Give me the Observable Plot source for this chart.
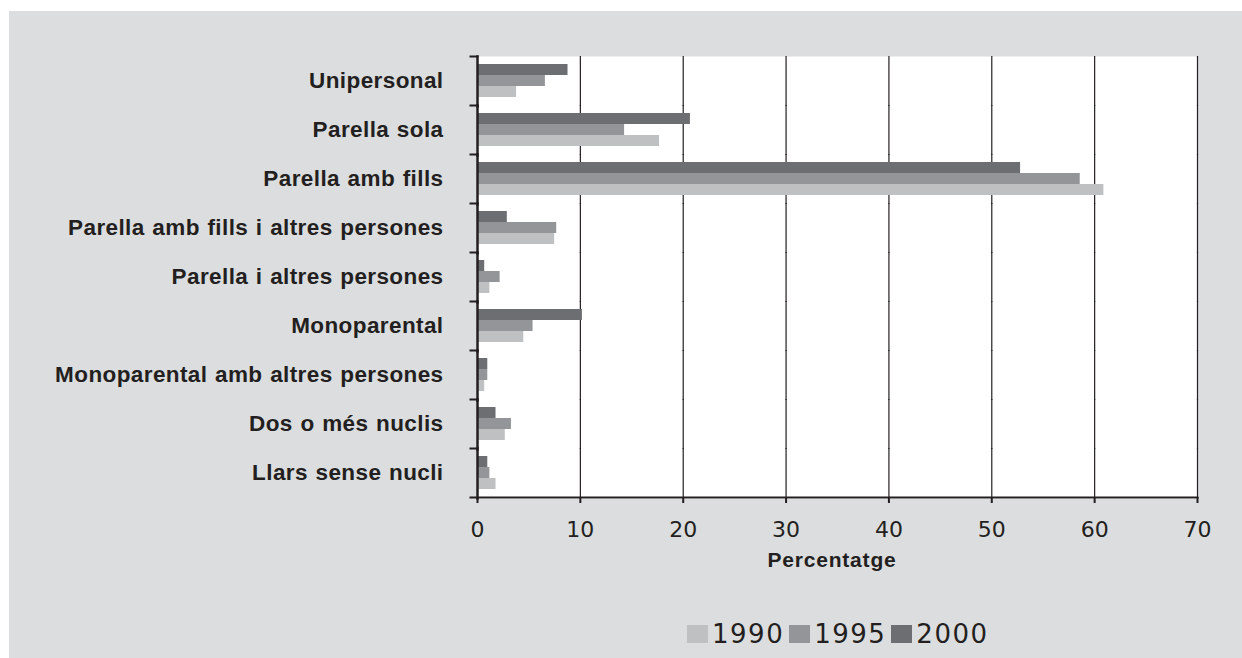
<!DOCTYPE html>
<html><head><meta charset="utf-8">
<script src="https://cdn.jsdelivr.net/npm/d3@7"></script>
<script src="https://cdn.jsdelivr.net/npm/@observablehq/plot@0.6"></script>
<style>
html,body{margin:0;padding:0;background:#fff;}
#bg{position:absolute;left:9px;top:11px;width:1233px;height:647px;background:#dcdddf;}
#chart{position:absolute;left:0;top:0;}
#xlabel{position:absolute;left:472px;width:720px;top:549px;text-align:center;font-family:"Liberation Sans";font-weight:bold;font-size:21px;line-height:21px;color:#231f20;letter-spacing:0.8px}
#legend{position:absolute;left:687px;top:621px;display:flex;align-items:flex-start;font-family:"DejaVu Sans";font-size:26px;line-height:26px;color:#231f20}
.sw{width:21px;height:18px;margin-top:4px;margin-right:4px}
.lt{margin-right:5px;letter-spacing:1.5px}
g[aria-label="fy-axis tick label"] text{word-spacing:1px;letter-spacing:0.4px}
</style></head><body>
<div id="bg"></div><div id="chart"></div><div id="xlabel"></div><div id="legend"></div>
<script>
const categories = [
  "Unipersonal",
  "Parella sola",
  "Parella amb fills",
  "Parella amb fills i altres persones",
  "Parella i altres persones",
  "Monoparental",
  "Monoparental amb altres persones",
  "Dos o més nuclis",
  "Llars sense nucli"
];
const years = ["1990", "1995", "2000"];
const colors = ["#bfc0c2", "#939598", "#6d6e71"];
const v1990 = [3.8, 17.7, 60.9, 7.5, 1.2, 4.5, 0.7, 2.7, 1.8];
const v1995 = [6.6, 14.3, 58.6, 7.7, 2.2, 5.4, 1.0, 3.3, 1.2];
const v2000 = [8.8, 20.7, 52.8, 2.9, 0.7, 10.2, 1.0, 1.8, 1.0];
const xTicks = [0, 10, 20, 30, 40, 50, 60, 70];
const xLabel = "Percentatge";

const series = {"1990": v1990, "1995": v1995, "2000": v2000};
const data = categories.flatMap((c, i) => years.map(y => ({category: c, year: y, value: series[y][i]})));

const W = 1242, H = 600, mL = 477, mR = 45, mT = 55, mB = 103;
const innerW = W - mL - mR;
const ink = "#231f20";

const plot = Plot.plot({
  width: W, height: H,
  marginLeft: mL, marginRight: mR, marginTop: mT, marginBottom: mB,
  style: {background: "transparent", overflow: "visible"},
  x: {domain: [0, 70], axis: null},
  y: {domain: [...years].reverse(), axis: null, paddingInner: 0, paddingOuter: 0.6},
  fy: {domain: categories, padding: 0, axis: null},
  color: {domain: years, range: colors},
  marks: [
    Plot.frame({fill: "white", insetBottom: -1.5}),
    Plot.ruleX(xTicks.slice(1), {stroke: ink, strokeWidth: 1.2, insetBottom: -1}),
    Plot.barX(data, {fy: "category", y: "year", x: "value", fill: "year"}),
    Plot.frame({anchor: "left", stroke: ink, strokeWidth: 2.5, insetBottom: -1}),
    Plot.frame({anchor: "top", stroke: ink, strokeWidth: 2, insetLeft: -7, insetRight: innerW}),
    Plot.frame({anchor: "bottom", stroke: ink, strokeWidth: 2, insetLeft: -7, facetAnchor: "bottom"}),
    Plot.axisFy({anchor: "left", tickSize: 0, tickPadding: 34, label: null, fontSize: 22.5, fontWeight: "bold", fontFamily: "Liberation Sans", color: ink}),
    Plot.axisX({ticks: xTicks, tickSize: 6, tickPadding: 18, strokeWidth: 2, label: null, fontSize: 22, fontFamily: "DejaVu Sans", color: ink})
  ]
});
document.getElementById("chart").appendChild(plot);
document.getElementById("xlabel").textContent = xLabel;

const legend = document.getElementById("legend");
years.forEach((y, i) => {
  const sw = document.createElement("div");
  sw.className = "sw";
  sw.style.background = colors[i];
  const t = document.createElement("div");
  t.className = "lt";
  t.textContent = y;
  legend.appendChild(sw);
  legend.appendChild(t);
});
</script>
</body></html>
